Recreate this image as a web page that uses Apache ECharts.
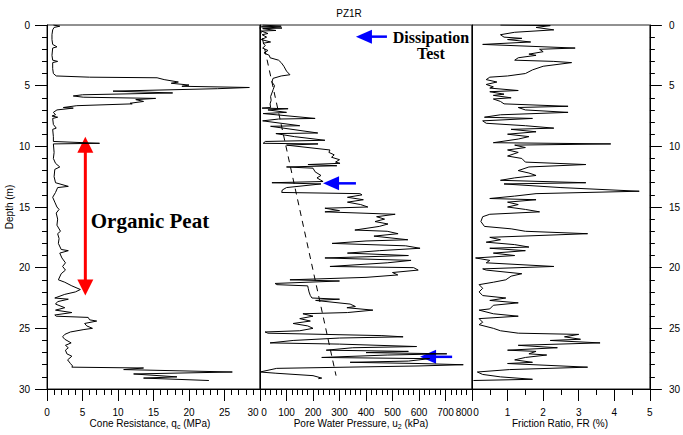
<!DOCTYPE html>
<html><head><meta charset="utf-8">
<script src="https://cdn.jsdelivr.net/npm/echarts@6.0.0/dist/echarts.min.js"></script>
<style>html,body{margin:0;padding:0;background:#fff}#c{width:683px;height:435px}</style>
</head><body><div id="c"></div>
<script>
// ---------- data ----------
const coneDepth = [0.0,0.1,0.2,0.4,0.8,1.2,1.6,1.8,1.9,2.5,2.9,3.0,3.1,3.6,4.0,4.2,4.3,4.35,4.5,4.7,4.8,4.95,5.05,5.15,5.25,5.45,5.6,5.75,5.85,5.95,6.05,6.15,6.3,6.45,6.5,6.65,6.8,6.85,7.0,7.2,7.4,7.5,7.6,7.7,8.2,8.5,8.6,9.2,9.6,9.75,9.8,10.5,11.0,11.4,11.7,11.9,12.5,13.0,13.3,13.4,13.8,14.2,14.6,15.0,15.2,15.5,16.0,16.5,17.0,17.2,17.6,18.0,18.5,18.6,18.8,19.2,19.6,19.9,20.2,20.5,21.0,21.2,21.5,21.8,22.0,22.2,22.5,22.6,22.8,23.0,23.3,23.5,23.7,23.9,24.0,24.1,24.3,24.4,24.6,24.8,25.0,25.1,25.3,25.5,25.7,25.9,26.2,26.4,26.6,26.8,27.1,27.3,27.6,27.9,28.1,28.2,28.27,28.4,28.6,28.76,29.0,29.1,29.3];
const coneQc    = [0.9,1.8,1.0,0.8,0.7,0.7,0.8,1.4,0.8,0.7,0.8,1.5,0.8,0.8,0.9,1.3,6.0,15.5,16.5,18.5,17.5,20.0,19.0,28.5,24.0,9.3,17.7,5.0,3.7,5.1,15.3,12.5,13.6,11.7,12.0,4.2,2.3,3.7,1.4,0.9,1.2,0.7,1.5,0.8,0.9,1.3,0.8,0.9,0.9,7.4,0.9,1.0,0.9,1.2,1.8,1.1,1.0,1.2,3.0,1.5,1.2,0.8,1.1,1.4,1.7,1.3,1.5,1.4,1.9,1.5,1.7,1.6,2.0,3.0,1.8,2.1,2.6,2.2,2.6,2.0,1.6,2.5,3.5,4.7,4.0,2.5,1.1,3.0,1.5,1.2,2.5,1.2,3.5,1.1,1.3,5.8,6.0,7.0,5.3,5.6,6.4,5.2,3.3,2.5,2.2,2.5,3.4,2.6,3.0,2.6,2.8,3.5,2.9,3.3,3.6,3.5,13.6,10.8,26.1,12.2,18.3,13.6,22.8];

const poreDepth = [0.0,0.1,0.15,0.25,0.3,0.45,0.5,0.7,0.8,1.0,1.2,1.4,1.5,1.7,1.9,2.1,2.3,2.5,2.7,2.9,3.1,3.4,3.8,4.1,4.2,4.4,4.7,5.0,5.3,5.6,5.9,6.2,6.5,6.8,6.85,6.9,7.0,7.2,7.3,7.7,7.75,7.9,8.3,8.35,8.9,8.95,9.2,9.5,9.6,9.75,9.8,9.9,10.3,10.5,10.7,10.9,11.1,11.3,11.4,11.5,11.6,11.7,11.8,12.1,12.4,12.6,12.9,13.0,13.1,13.4,13.6,13.8,13.9,14.0,14.2,14.4,14.6,14.8,15.0,15.1,15.3,15.4,15.6,15.8,16.0,16.2,16.4,16.6,16.9,17.0,17.2,17.4,17.7,17.8,18.0,18.2,18.4,18.6,18.8,19.0,19.2,19.4,19.6,19.9,20.0,20.2,20.4,20.6,20.8,21.0,21.1,21.3,21.4,21.5,21.7,22.0,22.3,22.5,22.6,22.7,23.0,23.2,23.3,23.5,23.7,23.8,24.0,24.2,24.4,24.6,24.8,25.0,25.2,25.3,25.4,25.6,25.7,25.8,26.0,26.2,26.3,26.5,26.6,26.8,26.9,27.0,27.1,27.2,27.4,27.5,27.7,27.8,27.9,28.0,28.1,28.3,28.6,28.7,28.9,29.1,29.15];
const poreU2    = [10,80,5,83,10,60,5,30,8,25,5,40,12,20,10,30,15,35,38,70,80,90,100,113,80,49,45,55,50,45,40,42,38,40,8,106,30,100,12,208,70,10,150,40,218,60,130,245,20,12,219,100,264,260,280,270,300,285,302,181,290,100,200,208,230,215,238,45,230,100,84,82,377,385,330,390,330,380,407,245,300,245,510,440,470,434,483,450,358,480,521,430,558,400,272,550,604,450,330,560,245,570,480,264,580,597,500,520,400,113,300,57,63,180,182,185,190,196,300,210,340,360,328,426,330,162,200,150,190,125,180,200,150,19,30,460,540,300,125,38,300,591,350,250,560,400,705,480,233,640,560,340,600,767,600,63,0,60,200,233,220];

const hydroDepth = [0.2, 28.9];
const hydroU2    = [0, 287];

const frDepth = [0.0,0.05,0.2,0.4,0.6,0.8,1.0,1.1,1.2,1.4,1.6,1.9,2.0,2.2,2.4,2.5,2.7,2.9,3.0,3.1,3.4,3.7,4.0,4.2,4.3,4.5,4.7,4.9,5.1,5.2,5.4,5.5,5.7,5.8,6.0,6.1,6.3,6.5,6.7,6.8,7.0,7.2,7.4,7.6,7.7,7.9,8.1,8.3,8.5,8.6,8.8,9.0,9.2,9.4,9.7,9.8,9.9,10.1,10.3,10.5,10.8,11.0,11.3,11.5,11.7,12.0,12.2,12.4,12.6,12.8,13.0,13.1,13.4,13.7,13.9,14.1,14.3,14.4,14.6,14.8,15.0,15.2,15.4,15.6,15.8,16.2,16.6,16.8,17.0,17.2,17.5,17.7,17.9,18.1,18.3,18.4,18.6,18.8,19.0,19.2,19.4,19.6,19.9,20.1,20.2,20.5,20.7,21.0,21.2,21.4,21.7,22.0,22.3,22.5,22.7,22.9,23.1,23.4,23.5,23.8,24.0,24.2,24.5,24.7,25.0,25.2,25.4,25.5,25.7,25.9,26.0,26.2,26.4,26.6,26.8,26.9,27.1,27.2,27.4,27.6,27.8,27.9,28.2,28.4,28.6,28.8,29.0,29.2,29.3];
const frValue = [0.8,2.2,1.8,2.3,1.2,0.8,0.9,1.4,1.0,1.65,0.3,2.9,1.9,2.0,1.6,1.8,1.3,1.2,2.3,2.8,2.0,1.7,1.5,1.0,0.5,0.4,0.7,0.4,0.6,0.5,1.3,0.5,0.9,0.6,1.1,0.6,0.8,0.9,2.7,1.3,1.5,2.7,0.8,0.35,1.7,0.3,0.4,1.5,2.3,1.1,1.8,1.0,1.6,1.3,0.6,3.9,1.2,1.5,1.0,1.3,1.0,1.4,1.5,3.2,1.6,1.3,1.6,1.8,1.2,0.8,3.2,0.9,2.5,4.7,1.8,1.2,0.5,1.8,1.0,1.3,1.0,1.5,1.9,0.5,0.3,0.25,0.35,1.1,1.5,3.25,0.5,0.8,0.4,1.2,1.6,0.5,1.5,0.6,1.2,0.1,0.5,0.4,2.3,0.3,0.4,1.4,1.1,0.95,0.6,0.2,0.3,0.2,0.3,0.95,0.5,1.3,0.6,0.5,0.2,0.6,1.3,0.2,0.3,0.2,0.6,0.8,1.3,3.0,2.6,3.05,2.2,3.6,1.3,2.4,1.0,1.8,1.6,2.1,1.5,1.2,1.7,1.0,3.25,1.05,0.15,0.3,0.8,1.7,0.04];

// axis ranges / ticks
const depthRange = [0, 30, 5];
const qcRange = [0, 30, 5];
const u2Range = [0, 800, 100];
const frRange = [0, 5, 1];

// annotations (data units)
const peatArrow = {x: 5.4, top: 9.2, bottom: 22.3};
const peatLabel = {x: 14.5, y: 16.15, text: 'Organic Peat'};
const dissArrows = [[362, 479, 0.96], [238, 362, 13.05], [604, 725, 27.35]];
const dissLabel = {x: 645, y1: 1.07, y2: 2.35, line1: 'Dissipation', line2: 'Test'};

// ---------- chart ----------
const FONT = '"Liberation Sans", Arial, sans-serif';
const SERIF = '"Liberation Serif", "Times New Roman", serif';
const pair = (a, b) => a.map((v, i) => [b[i], v]);
const chart = echarts.init(document.getElementById('c'), null, {renderer: 'svg'});

const labelRich = {
  L: {fontSize: 10, color: '#000', fontFamily: FONT, padding: [0, 14, 0, 0]},
  LL: {fontSize: 10, color: '#000', fontFamily: FONT, padding: [0, 16, 0, 0]},
  R: {fontSize: 10, color: '#000', fontFamily: FONT, padding: [0, 0, 0, 8]}
};
const axisCommon = {
  type: 'value',
  axisLine: {show: true, onZero: false, lineStyle: {color: '#000', width: 1}},
  axisTick: {show: true, length: 12, lineStyle: {color: '#000'}},
  minorTick: {show: true, length: 6, lineStyle: {color: '#000'}},
  splitLine: {show: false},
  minorSplitLine: {show: false},
  axisLabel: {fontSize: 10, color: '#000', fontFamily: FONT, showMinLabel: true, showMaxLabel: true, hideOverlap: false}
};
// shift labels that sit on shared panel borders so they don't collide
function xAx(g, r, split, fmt) {
  return Object.assign({}, axisCommon, {
    gridIndex: g, min: r[0], max: r[1], interval: r[2], position: 'bottom',
    minorTick: Object.assign({}, axisCommon.minorTick, {splitNumber: split}),
    axisLabel: Object.assign({}, axisCommon.axisLabel, {margin: 18, formatter: fmt, rich: labelRich})
  });
}
function yAx(g, pos, showTicks) {
  return Object.assign({}, axisCommon, {
    gridIndex: g, min: depthRange[0], max: depthRange[1], interval: depthRange[2], inverse: true, position: pos,
    axisTick: Object.assign({}, axisCommon.axisTick, {show: showTicks, length: 12}),
    minorTick: Object.assign({}, axisCommon.minorTick, {show: showTicks, splitNumber: 5, length: 5}),
    axisLabel: Object.assign({}, axisCommon.axisLabel, {show: showTicks, margin: pos === 'left' ? 17 : 19})
  });
}

const yAxes = [yAx(0, 'left', true), yAx(1, 'left', false), yAx(2, 'left', false), yAx(2, 'right', true)];
yAxes[0].name = 'Depth (m)';
yAxes[0].nameLocation = 'middle';
yAxes[0].nameGap = 31;
yAxes[0].nameRotate = 90;
yAxes[0].nameTextStyle = {fontSize: 10, color: '#000', fontFamily: FONT};

const fmt1 = v => v === qcRange[1] ? '{L|' + v + '}' : String(v);
const fmt2 = v => v === u2Range[0] ? '{R|' + v + '}' : (v === u2Range[1] ? '{LL|' + v + '}' : String(v));
const fmt3 = v => v === frRange[0] ? '{R|' + v + '}' : String(v);

const lineStyle = {color: '#000', width: 1};
chart.setOption({
  animation: false,
  backgroundColor: '#fff',
  title: {text: 'PZ1R', left: 344, top: 3, textAlign: 'center',
    textStyle: {fontSize: 10, fontWeight: 'normal', color: '#000', fontFamily: FONT}},
  grid: [
    {left: 47, top: 25, width: 213, height: 364, show: true, borderColor: '#222', borderWidth: 1},
    {left: 260, top: 25, width: 212, height: 364, show: true, borderColor: '#222', borderWidth: 1},
    {left: 472, top: 25, width: 182, height: 364, show: true, borderColor: '#222', borderWidth: 1}
  ],
  xAxis: [xAx(0, qcRange, 5, fmt1), xAx(1, u2Range, 5, fmt2), xAx(2, frRange, 2, fmt3)],
  yAxis: yAxes,
  series: [
    {type: 'line', xAxisIndex: 0, yAxisIndex: 0, data: pair(coneDepth, coneQc), showSymbol: false, symbol: 'none', lineStyle: lineStyle},
    {type: 'line', xAxisIndex: 1, yAxisIndex: 1, data: pair(poreDepth, poreU2), showSymbol: false, symbol: 'none', lineStyle: lineStyle},
    {type: 'line', xAxisIndex: 1, yAxisIndex: 1, data: pair(hydroDepth, hydroU2), showSymbol: false, symbol: 'none', lineStyle: {color: '#000', width: 1, type: [6, 5]}},
    {type: 'line', xAxisIndex: 2, yAxisIndex: 2, data: pair(frDepth, frValue), showSymbol: false, symbol: 'none', lineStyle: lineStyle}
  ]
});

// ---------- annotations & axis names ----------
const px = (g, x, y) => chart.convertToPixel({xAxisIndex: g, yAxisIndex: g}, [x, y]);
const gfx = [];
// red double arrow
const t = px(0, peatArrow.x, peatArrow.top), b = px(0, peatArrow.x, peatArrow.bottom);
gfx.push({type: 'line', shape: {x1: t[0], y1: t[1] + 14, x2: b[0], y2: b[1] - 14}, style: {stroke: '#ff0000', lineWidth: 3}});
gfx.push({type: 'polygon', shape: {points: [[t[0], t[1]], [t[0] - 8, t[1] + 16], [t[0] + 8, t[1] + 16]]}, style: {fill: '#ff0000'}});
gfx.push({type: 'polygon', shape: {points: [[b[0], b[1]], [b[0] - 8, b[1] - 16], [b[0] + 8, b[1] - 16]]}, style: {fill: '#ff0000'}});
const pl = px(0, peatLabel.x, peatLabel.y);
gfx.push({type: 'text', x: pl[0], y: pl[1], style: {text: peatLabel.text, font: 'bold 21px ' + SERIF, fill: '#000', align: 'center', verticalAlign: 'middle'}});
// blue arrows
dissArrows.forEach(a => {
  const tip = px(1, a[0], a[2]), tail = px(1, a[1], a[2]);
  gfx.push({type: 'line', shape: {x1: tip[0] + 14, y1: tip[1], x2: tail[0], y2: tail[1]}, style: {stroke: '#0000ff', lineWidth: 2.5}});
  gfx.push({type: 'polygon', shape: {points: [[tip[0], tip[1]], [tip[0] + 16, tip[1] - 7], [tip[0] + 16, tip[1] + 7]]}, style: {fill: '#0000ff'}});
});
const d1 = px(1, dissLabel.x, dissLabel.y1), d2 = px(1, dissLabel.x, dissLabel.y2);
gfx.push({type: 'text', x: d1[0], y: d1[1], style: {text: dissLabel.line1, font: 'bold 16px ' + SERIF, fill: '#000', align: 'center', verticalAlign: 'middle'}});
gfx.push({type: 'text', x: d2[0], y: d2[1], style: {text: dissLabel.line2, font: 'bold 16px ' + SERIF, fill: '#000', align: 'center', verticalAlign: 'middle'}});
// axis titles with subscripts
const rich = {a: {fontSize: 10, fontFamily: FONT, fill: '#000', color: '#000', lineHeight: 14}, s: {fontSize: 7, fontFamily: FONT, fill: '#000', color: '#000', lineHeight: 7, verticalAlign: 'bottom'}};
[[150, '{a|Cone Resistance, q}{s|c}{a| (MPa)}'], [361, '{a|Pore Water Pressure, u}{s|2}{a| (kPa)}'], [560, '{a|Friction Ratio, FR (%)}']].forEach(n => {
  gfx.push({type: 'text', x: n[0], y: 423, style: {text: n[1], rich: rich, align: 'center', verticalAlign: 'middle'}});
});
chart.setOption({graphic: gfx});
</script></body></html>
